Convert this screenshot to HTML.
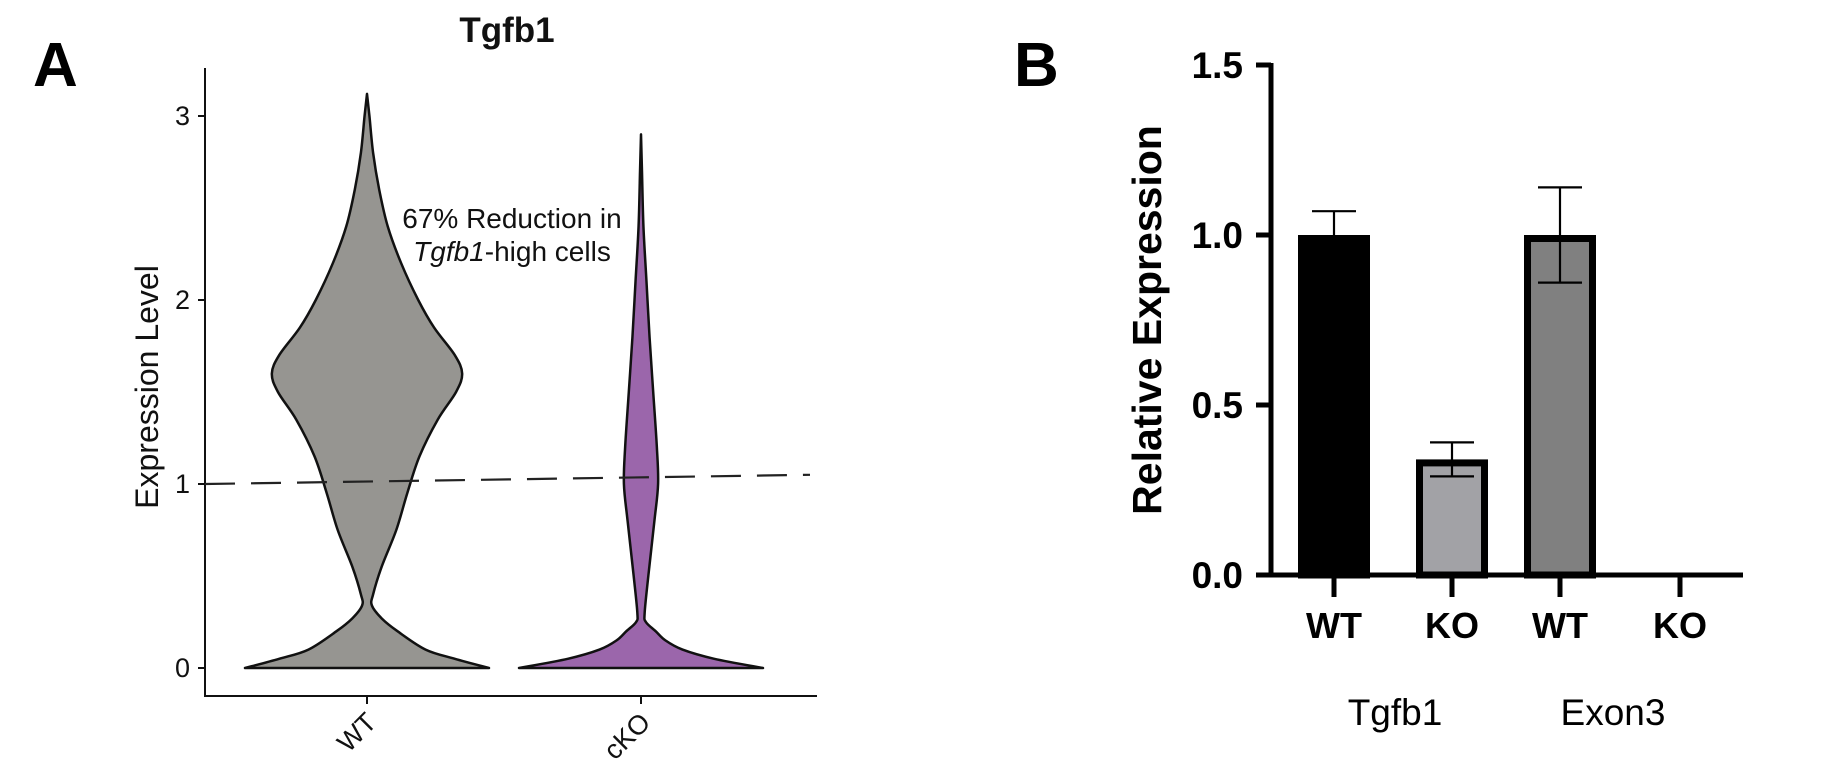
<!DOCTYPE html>
<html><head><meta charset="utf-8"><style>
html,body{margin:0;padding:0;background:#fff;}
svg{display:block;font-family:"Liberation Sans",sans-serif;}
</style></head><body>
<svg id="fig" width="1835" height="762" viewBox="0 0 1835 762">
<text x="33" y="86" font-size="62" font-weight="bold">A</text>
<text x="1014" y="86" font-size="62" font-weight="bold">B</text>
<g id="pa"></g>
<g id="pb"></g>
</svg>
<script>
// ---------- Panel A data ----------
const violinGroups = ["WT", "cKO"];
const wtLevels = [0, 0.05, 0.1, 0.2, 0.27, 0.34, 0.4, 0.55, 0.75, 0.95, 1.15, 1.35, 1.5, 1.6, 1.7, 1.85, 2.0, 2.2, 2.4, 2.6, 2.8, 3.0, 3.12];
const wtWidths = [1.0, 0.72, 0.48, 0.25, 0.12, 0.04, 0.05, 0.12, 0.24, 0.33, 0.43, 0.58, 0.73, 0.78, 0.72, 0.55, 0.42, 0.28, 0.17, 0.1, 0.05, 0.02, 0];
const koLevels = [0, 0.05, 0.1, 0.15, 0.2, 0.25, 0.3, 0.5, 0.8, 1.0, 1.2, 1.5, 1.8, 2.1, 2.4, 2.7, 2.9];
const koWidths = [1.0, 0.6, 0.34, 0.2, 0.12, 0.04, 0.03, 0.06, 0.11, 0.14, 0.13, 0.1, 0.07, 0.045, 0.02, 0.008, 0];
const yTicksA = [0, 1, 2, 3];
const thresholdLine = [1.0, 1.05];

// ---------- Panel B data ----------
const barCategories = ["WT", "KO", "WT", "KO"];
const barGroups = ["Tgfb1", "Exon3"];
const barValues = [1.0, 0.34, 1.0, 0.0];
const barErrors = [0.07, 0.05, 0.14, 0];
const yTicksB = [0.0, 0.5, 1.0, 1.5];
const yTickLabelsB = ["0.0", "0.5", "1.0", "1.5"];

const NS = "http://www.w3.org/2000/svg";
function mk(tag, attrs, parent, txt) {
  const e = document.createElementNS(NS, tag);
  for (const k in attrs) e.setAttribute(k, attrs[k]);
  if (txt !== undefined) e.textContent = txt;
  parent.appendChild(e);
  return e;
}
function smooth(pts) {
  let d = "M" + pts[0][0] + "," + pts[0][1];
  for (let i = 0; i < pts.length - 1; i++) {
    const p0 = pts[Math.max(0, i - 1)], p1 = pts[i], p2 = pts[i + 1], p3 = pts[Math.min(pts.length - 1, i + 2)];
    const c1 = [p1[0] + (p2[0] - p0[0]) / 6, p1[1] + (p2[1] - p0[1]) / 6];
    const c2 = [p2[0] - (p3[0] - p1[0]) / 6, p2[1] - (p3[1] - p1[1]) / 6];
    d += " C" + c1[0] + "," + c1[1] + " " + c2[0] + "," + c2[1] + " " + p2[0] + "," + p2[1];
  }
  return d;
}

// ---------- Panel A ----------
const pa = document.getElementById("pa");
const axL = 205, axR = 817, axT = 68, axB = 696;
const yA = v => 668 - v * 184;
const xA = i => [367, 641][i];
const halfMax = 122;

function violin(levels, widths, cx, fill, name) {
  const right = levels.map((l, i) => [cx + widths[i] * halfMax, yA(l)]);
  const left = levels.map((l, i) => [cx - widths[i] * halfMax, yA(l)]).reverse();
  let d = smooth(right);
  d += " L" + left[0][0] + "," + left[0][1];
  d += smooth(left).replace(/^M[^C]*/, " ");
  d += " Z";
  const p = mk("path", {d: d, fill: fill, stroke: "#111", "stroke-width": 2.5, "stroke-linejoin": "round"}, pa);
  
  
}
violin(wtLevels, wtWidths, xA(0), "#969591", "violin-wt");
violin(koLevels, koWidths, xA(1), "#9b66ab", "violin-cko");

let ln = mk("line", {x1: axL, y1: axT, x2: axL, y2: axB + 1, stroke: "#111", "stroke-width": 2}, pa);


ln = mk("line", {x1: axL - 1, y1: axB, x2: axR, y2: axB, stroke: "#111", "stroke-width": 2}, pa);


yTicksA.forEach(t => {
  const tk = mk("line", {x1: axL - 7, y1: yA(t), x2: axL, y2: yA(t), stroke: "#111", "stroke-width": 2}, pa);
  
  
  const tl = mk("text", {x: axL - 15, y: yA(t) + 9, "font-size": 27, "text-anchor": "end", fill: "#111"}, pa, String(t));
  
  
});
violinGroups.forEach((g, i) => {
  const tk = mk("line", {x1: xA(i), y1: axB, x2: xA(i), y2: axB + 8, stroke: "#111", "stroke-width": 2}, pa);
  
  
  const lx = xA(i) + 11, ly = axB + 28;
  const tl = mk("text", {x: lx, y: ly, "font-size": 27, "text-anchor": "end", fill: "#111", transform: "rotate(-45 " + lx + " " + ly + ")"}, pa, g);
  
  
});
const dl = mk("line", {x1: axL, y1: yA(thresholdLine[0]), x2: 810, y2: yA(thresholdLine[1]), stroke: "#222", "stroke-width": 2.2, "stroke-dasharray": "30,16"}, pa);


let t = mk("text", {x: 507, y: 42, "font-size": 35, "font-weight": "bold", "text-anchor": "middle", fill: "#111"}, pa, "Tgfb1");


t = mk("text", {x: 158, y: 387, "font-size": 32, "text-anchor": "middle", fill: "#111", transform: "rotate(-90 158 387)"}, pa, "Expression Level");


t = mk("text", {x: 512, y: 228, "font-size": 28, "text-anchor": "middle", fill: "#111"}, pa, "67% Reduction in");


t = mk("text", {x: 512, y: 261, "font-size": 28, "text-anchor": "middle", fill: "#111"}, pa);


mk("tspan", {"font-style": "italic"}, t, "Tgfb1");
mk("tspan", {}, t, "-high cells");

// ---------- Panel B ----------
const pb = document.getElementById("pb");
const bL = 1271, bR = 1743;
const yB = v => 575 - v * 340;
const xB = i => [1334, 1452, 1560, 1680][i];
const barW = 72;
const fills = ["#000000", "#a2a2a6", "#808080", "#ffffff"];

barValues.forEach((v, i) => {
  if (v <= 0) return;
  const r = mk("rect", {x: xB(i) - barW / 2 + 3.5, y: yB(v) + 3.5, width: barW - 7, height: yB(0) - yB(v) - 3.5, fill: fills[i], stroke: "#000", "stroke-width": 7}, pb);
  
  
});
barValues.forEach((v, i) => {
  const e = barErrors[i];
  if (e <= 0) return;
  const g = mk("g", {stroke: "#000", "stroke-width": 2.2}, pb);
  
  
  const lo = i === 0 ? v : v - e;
  mk("line", {x1: xB(i), y1: yB(v + e), x2: xB(i), y2: yB(lo)}, g);
  mk("line", {x1: xB(i) - 22, y1: yB(v + e), x2: xB(i) + 22, y2: yB(v + e)}, g);
  if (i !== 0) mk("line", {x1: xB(i) - 22, y1: yB(v - e), x2: xB(i) + 22, y2: yB(v - e)}, g);
});
ln = mk("line", {x1: bL, y1: yB(1.5) - 2, x2: bL, y2: yB(0) + 2, stroke: "#000", "stroke-width": 5}, pb);


ln = mk("line", {x1: bL - 15, y1: yB(0), x2: bR, y2: yB(0), stroke: "#000", "stroke-width": 5}, pb);


yTicksB.forEach((tv, i) => {
  const tk = mk("line", {x1: bL - 15, y1: yB(tv), x2: bL, y2: yB(tv), stroke: "#000", "stroke-width": 5}, pb);
  
  
  const tl = mk("text", {x: bL - 28, y: yB(tv) + 13, "font-size": 37, "font-weight": "bold", "text-anchor": "end", fill: "#000"}, pb, yTickLabelsB[i]);
  
  
});
barCategories.forEach((c, i) => {
  const tk = mk("line", {x1: xB(i), y1: yB(0), x2: xB(i), y2: yB(0) + 22, stroke: "#000", "stroke-width": 5}, pb);
  
  
  const tl = mk("text", {x: xB(i), y: 638, "font-size": 36, "font-weight": "bold", "text-anchor": "middle", fill: "#000"}, pb, c);
  
  
});
const groupX = [1395, 1613];
barGroups.forEach((g, i) => {
  const tl = mk("text", {x: groupX[i], y: 725, "font-size": 37, "text-anchor": "middle", fill: "#000"}, pb, g);
  
  
});
t = mk("text", {x: 1161, y: 320, "font-size": 41, "font-weight": "bold", "text-anchor": "middle", fill: "#000", transform: "rotate(-90 1161 320)"}, pb, "Relative Expression");


</script>
</body></html>
